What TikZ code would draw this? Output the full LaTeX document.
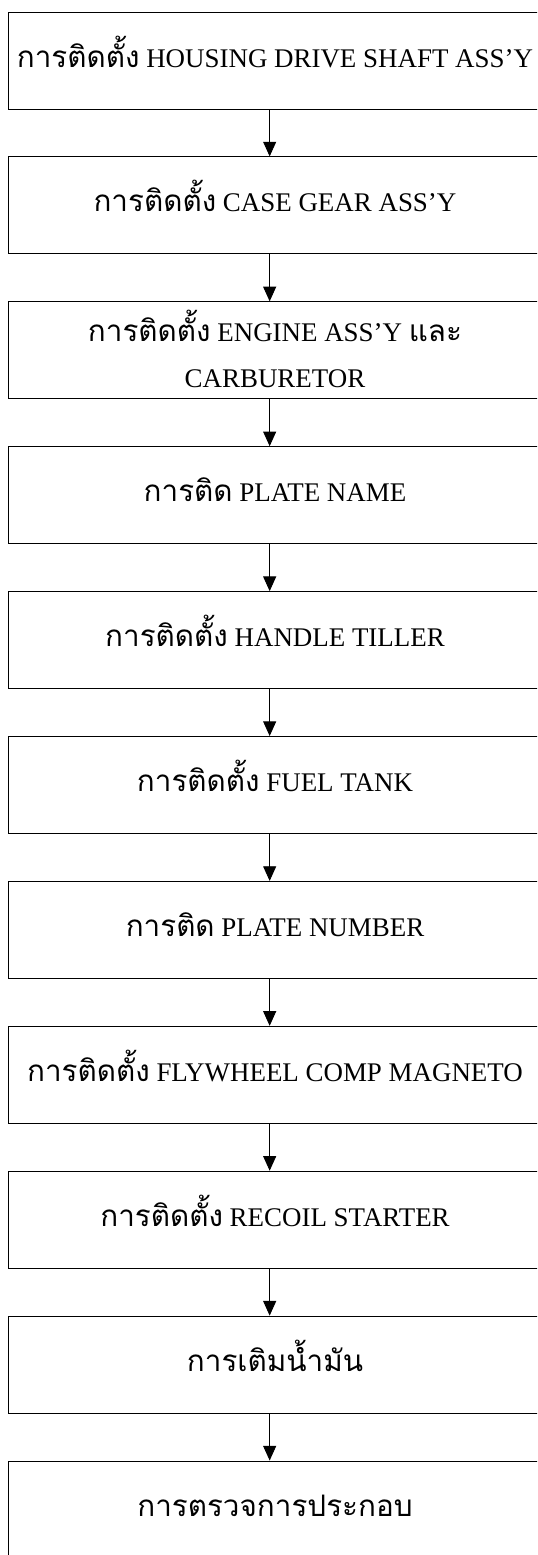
\documentclass[tikz,border=0pt]{standalone}
\usepackage{fontspec}
\setmainfont{Liberation Serif}
\newfontfamily\thaifont[Script=Thai, Scale=1.1]{Loma}
\usetikzlibrary{arrows.meta}
\newcommand{\thai}[1]{{\thaifont #1}}

\begin{document}
\begin{tikzpicture}[x=0.75pt, y=-0.75pt, font=\fontsize{20.2}{34.5}\selectfont,
  stepbox/.style={draw, line width=0.7pt, minimum width=400.5pt,
    minimum height=72.75pt, inner sep=0pt, align=center,
    text height=14pt, text depth=4.2pt},
  oneline/.style={},
  twoline/.style={text height=60.4pt},
  flow/.style={-{Triangle[width=9.75pt, length=11pt]}, line width=0.7pt}]
  \useasboundingbox (0,0) rectangle (537,1555);
  \clip (0,0) rectangle (537,1555);
  % the boxes run past the right and bottom edge of the page
  \foreach \n/\opt/\txt in {
    1/oneline/{\thai{การติดตั้ง} HOUSING DRIVE SHAFT ASS’Y},
    2/oneline/{\thai{การติดตั้ง} CASE GEAR ASS’Y},
    3/twoline/{\thai{การติดตั้ง} ENGINE ASS’Y \thai{และ}\\CARBURETOR},
    4/oneline/{\thai{การติด} PLATE NAME},
    5/oneline/{\thai{การติดตั้ง} HANDLE TILLER},
    6/oneline/{\thai{การติดตั้ง} FUEL TANK},
    7/oneline/{\thai{การติด} PLATE NUMBER},
    8/oneline/{\thai{การติดตั้ง} FLYWHEEL COMP MAGNETO},
    9/oneline/{\thai{การติดตั้ง} RECOIL STARTER},
    10/oneline/{\thai{การเติมน้ำมัน}},
    11/oneline/{\thai{การตรวจการประกอบ}}}
  { \node[stepbox, \opt] (b\n) at (275, {60.5+144.9*(\n-1)}) {\txt}; }
  \foreach \n [evaluate=\n as \m using int(\n+1)] in {1,...,10}
    \draw[flow] ([xshift=-4pt]b\n.south) -- ([xshift=-4pt]b\m.north);
\end{tikzpicture}
\end{document}
